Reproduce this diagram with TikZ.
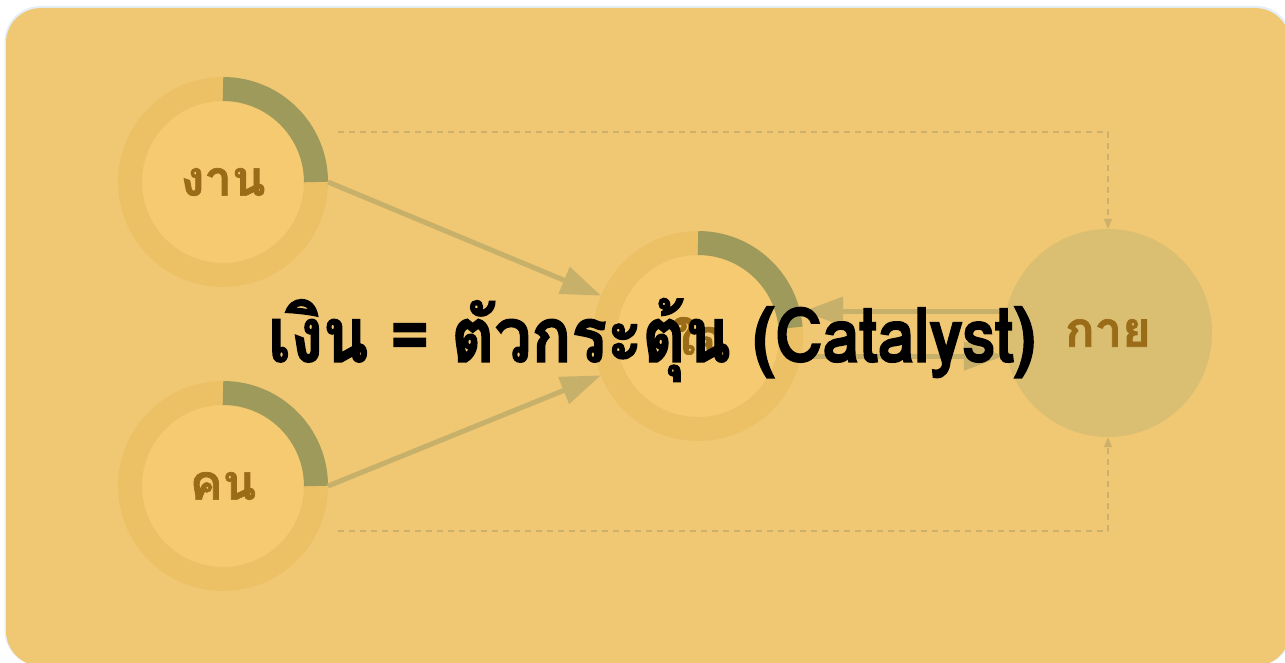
\documentclass[tikz,border=0pt]{standalone}
\usepackage{fontspec}
\newfontfamily\thaifont[Script=Thai,FakeBold=1.5]{Loma}
\newfontfamily\titlefont[Script=Thai,FakeBold=1.8,FakeStretch=0.87]{Loma}
\usetikzlibrary{arrows.meta}
\definecolor{panel}{HTML}{F0C874}
\definecolor{edgeblue}{HTML}{E4EEF8}
\definecolor{ringc}{HTML}{ECC166}
\definecolor{innerc}{HTML}{F5CA71}
\definecolor{arcc}{HTML}{9E9A5C}
\definecolor{bodyc}{HTML}{DABF73}
\definecolor{linkc}{HTML}{C6B06A}
\definecolor{dashc}{HTML}{CDB06B}
\definecolor{labelc}{HTML}{9A6C18}
\tikzstyle{ringnode}=[circle,draw=ringc,line width=24pt,fill=innerc,minimum size=186pt,inner sep=0pt,text=labelc,font=\thaifont\bfseries\fontsize{49}{51}\selectfont]
\tikzstyle{bodynode}=[circle,fill=bodyc,minimum size=208pt,inner sep=0pt,text=labelc,font=\thaifont\bfseries\fontsize{49}{51}\selectfont]
\tikzstyle{link}=[draw=linkc,line width=5pt,-{Triangle[length=40pt,width=28pt]}]
\tikzstyle{feedback}=[draw=dashc,line width=1.6pt,dash pattern=on 6pt off 5pt,-{Triangle[length=10pt,width=8pt]}]
\tikzstyle{progress}=[draw=arcc,line width=24pt]

\begin{document}
\begin{tikzpicture}[x=1pt,y=1pt]
	\useasboundingbox (0,0) rectangle (1285,662);
	\fill[white] (0,0) rectangle (1285,662);
	\fill[edgeblue,rounded corners=36pt] (4.5,656) rectangle (1292,-4);
	\fill[panel,rounded corners=35pt] (6,654) rectangle (1290,-4);
	% circles
	\node[ringnode] (work) at (223,480) {งาน};
	\node[ringnode] (people) at (223,176) {คน};
	\node[ringnode] (mind) at (698,326) {ใจ};
	\node[bodynode] (body) at (1108,329) {กาย};
	% progress arcs
	\draw[progress] ([shift={(90:93)}]work.center) arc (90:0:93);
	\draw[progress] ([shift={(90:93)}]people.center) arc (90:0:93);
	\draw[progress] ([shift={(90:93)}]mind.center) arc (90:5:93);
	% connectors
	\draw[link] (work.east) -- (mind);
	\draw[link] (people.east) -- (mind);
	\draw[link] (body.168) -- (body.168 -| mind.east);
	\draw[link] (mind.-11) -- (mind.-11 -| body.west);
	\draw[feedback] ([shift={(10,50)}]work.east) -| (body.north);
	\draw[feedback] ([shift={(10,-45)}]people.east) -| (body.south);
	% title
	\node[font=\titlefont\bfseries\fontsize{76}{78}\selectfont,text=black] (title) at (652,322) {เงิน = ตัวกระตุ้น (Catalyst)};
\end{tikzpicture}
\end{document}
